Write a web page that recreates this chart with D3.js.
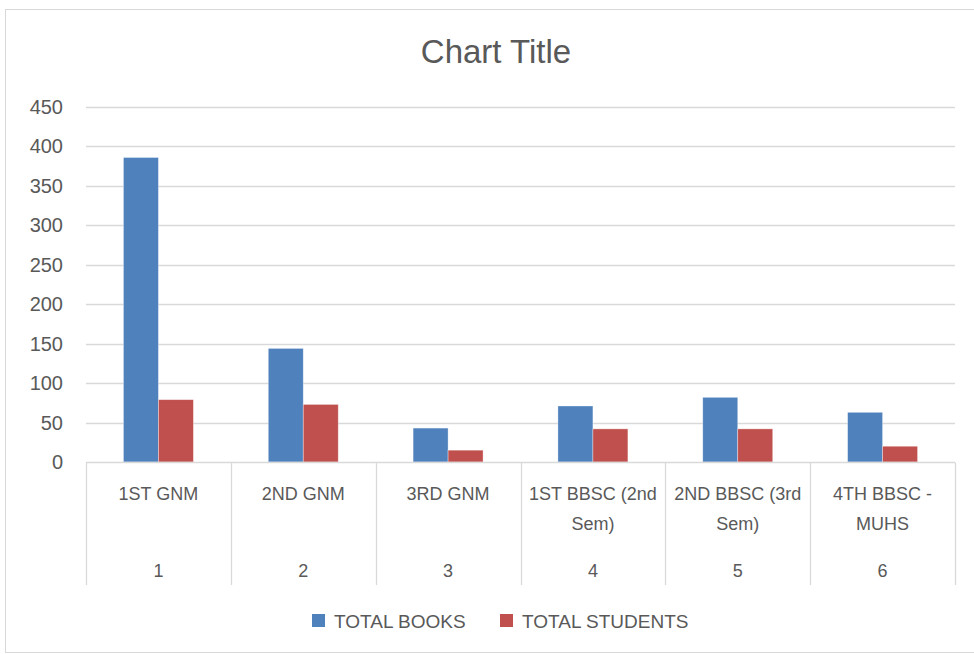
<!DOCTYPE html>
<html>
<head>
<meta charset="utf-8">
<script src="https://cdn.jsdelivr.net/npm/d3@7"></script>
<style>
  body { margin: 0; background: #fff; }
  text { font-family: "Liberation Sans", "Open Sans", sans-serif; fill: #595959; }
</style>
</head>
<body>
<div id="chart"></div>
<script>
// data
var categories = ["1ST GNM", "2ND GNM", "3RD GNM", "1ST BBSC (2nd Sem)", "2ND BBSC (3rd Sem)", "4TH BBSC - MUHS"];
var groupNumbers = ["1", "2", "3", "4", "5", "6"];
var seriesNames = ["TOTAL BOOKS", "TOTAL STUDENTS"];
var totalBooks = [386, 144, 43, 71, 82, 63];
var totalStudents = [79, 73, 15, 42, 42, 20];
var yTicks = [0, 50, 100, 150, 200, 250, 300, 350, 400, 450];
var colors = ["#4f81bd", "#c0504d"];

var width = 974, height = 655;
var margin = {left: 86, right: 19, top: 107, bottom: 193};

var svg = d3.select("#chart").append("svg")
    .attr("width", width)
    .attr("height", height);

// chart frame
svg.append("rect")
    .attr("x", 5.5).attr("y", 9.5)
    .attr("width", 980).attr("height", 643)
    .attr("fill", "none")
    .attr("stroke", "#d9d9d9");

svg.append("text")
    .attr("x", 496).attr("y", 63)
    .attr("text-anchor", "middle")
    .style("font-size", "33px")
    .text("Chart Title");

var x = d3.scaleBand()
    .domain(categories)
    .range([margin.left, width - margin.right]);

var x1 = d3.scaleBand()
    .domain(seriesNames)
    .range([0, x.bandwidth()])
    .paddingInner(0)
    .paddingOuter(1.07);

var y = d3.scaleLinear()
    .domain([0, 450])
    .range([height - margin.bottom, margin.top]);

// gridlines
svg.append("g")
    .selectAll("line")
    .data(yTicks.slice(1))
    .join("line")
    .attr("x1", margin.left).attr("x2", width - margin.right)
    .attr("y1", d => Math.round(y(d)) + 0.5).attr("y2", d => Math.round(y(d)) + 0.5)
    .attr("stroke", "#d9d9d9")
    .attr("stroke-width", 1.3);

// y labels
svg.append("g")
    .selectAll("text")
    .data(yTicks)
    .join("text")
    .attr("x", 63)
    .attr("y", d => y(d) + 7)
    .attr("text-anchor", "end")
    .style("font-size", "20px")
    .text(d => d);

// bars
var rows = categories.map(function(c, i) {
    return {cat: c, values: [totalBooks[i], totalStudents[i]]};
});

var groups = svg.append("g")
    .selectAll("g")
    .data(rows)
    .join("g")
    .attr("transform", d => "translate(" + x(d.cat) + ",0)");

groups.selectAll("rect")
    .data(d => d.values.map((v, j) => ({name: seriesNames[j], value: v, j: j})))
    .join("rect")
    .attr("x", d => x1(d.name))
    .attr("y", d => y(d.value))
    .attr("width", x1.bandwidth())
    .attr("height", d => y(0) - y(d.value))
    .attr("fill", d => colors[d.j])
    .attr("stroke", "#fff")
    .attr("stroke-opacity", 0.5)
    .attr("stroke-width", 0.7);

// baseline + category dividers
var base = Math.round(y(0)) + 0.5;
svg.append("line")
    .attr("x1", margin.left).attr("x2", width - margin.right)
    .attr("y1", base).attr("y2", base)
    .attr("stroke", "#d9d9d9").attr("stroke-width", 1.3);

var edges = categories.map(c => x(c)).concat([width - margin.right]);
svg.append("g")
    .selectAll("line")
    .data(edges)
    .join("line")
    .attr("x1", d => Math.round(d) + 0.5).attr("x2", d => Math.round(d) + 0.5)
    .attr("y1", base).attr("y2", 585)
    .attr("stroke", "#d9d9d9").attr("stroke-width", 1.3);

// wrap category names into lines that fit the band
function wrap(label, maxW) {
    var words = label.split(" "), lines = [], cur = "";
    var probe = svg.append("text").style("font-size", "18px");
    words.forEach(function(w) {
        var test = cur ? cur + " " + w : w;
        probe.text(test);
        if (probe.node().getComputedTextLength() > maxW && cur) {
            lines.push(cur);
            cur = w;
        } else {
            cur = test;
        }
    });
    lines.push(cur);
    probe.remove();
    return lines;
}

var catLabels = svg.append("g")
    .selectAll("text")
    .data(categories)
    .join("text")
    .attr("text-anchor", "middle")
    .style("font-size", "18px")
    .attr("x", d => x(d) + x.bandwidth() / 2)
    .attr("y", 500);

catLabels.each(function(d) {
    var t = d3.select(this);
    wrap(d, x.bandwidth() - 1).forEach(function(line, k) {
        t.append("tspan")
            .attr("x", x(d) + x.bandwidth() / 2)
            .attr("dy", k === 0 ? 0 : 30)
            .text(line);
    });
});

svg.append("g")
    .selectAll("text")
    .data(groupNumbers)
    .join("text")
    .attr("text-anchor", "middle")
    .style("font-size", "18px")
    .attr("x", (d, i) => x(categories[i]) + x.bandwidth() / 2)
    .attr("y", 577)
    .text(d => d);

// legend
var legendX = [312, 500];
var legend = svg.append("g")
    .selectAll("g")
    .data(seriesNames)
    .join("g")
    .attr("transform", (d, i) => "translate(" + legendX[i] + ",614)");

legend.append("rect")
    .attr("width", 13).attr("height", 13)
    .attr("fill", (d, i) => colors[i]);

legend.append("text")
    .attr("x", 22).attr("y", 14)
    .style("font-size", "19px")
    .text(d => d);
</script>
</body>
</html>
